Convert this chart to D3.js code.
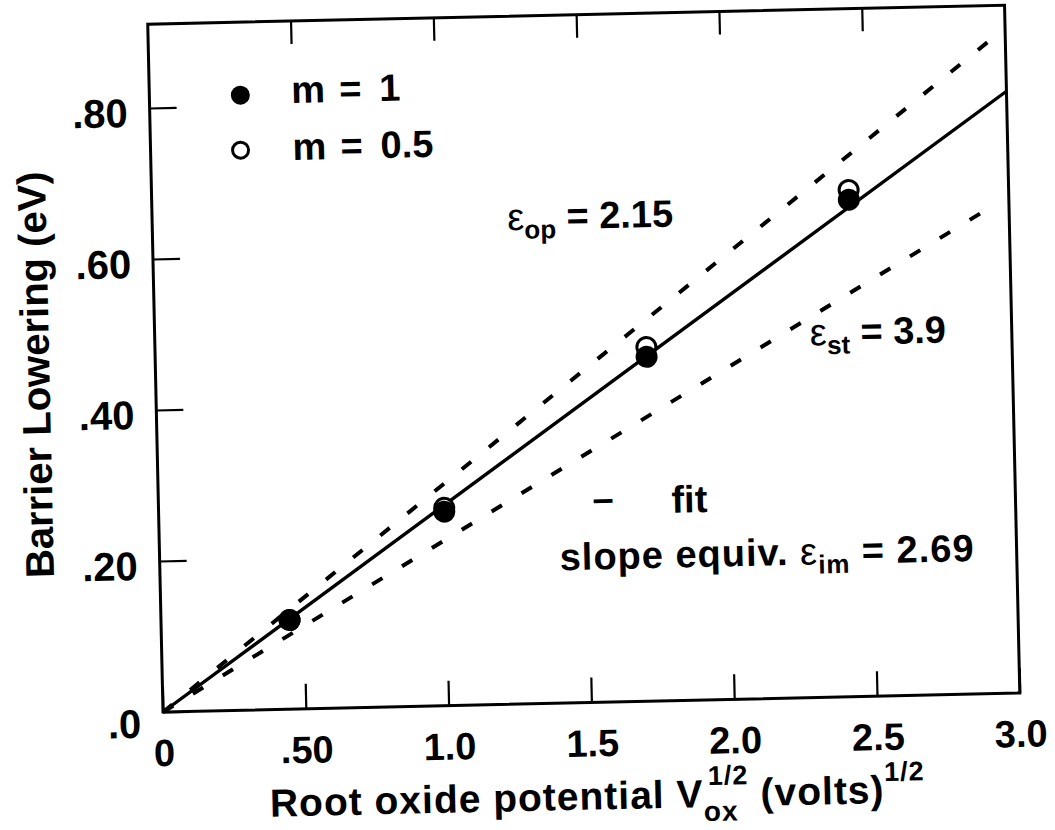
<!DOCTYPE html>
<html>
<head>
<meta charset="utf-8">
<script src="https://cdn.jsdelivr.net/npm/d3@7"></script>
<style>
  body { margin: 0; background: #fff; }
  svg text { font-family: "Liberation Sans", Arial, Helvetica, sans-serif; font-weight: bold; fill: #000; }
</style>
</head>
<body>
<svg id="chart" width="1055" height="830"></svg>
<script>
// Schottky barrier lowering versus the square root of the oxide potential

// axis ticks and their printed labels
const xTicks = [0, 0.5, 1.0, 1.5, 2.0, 2.5, 3.0];
const xTickLabels = ["0", ".50", "1.0", "1.5", "2.0", "2.5", "3.0"];
const yTicks = [0, 0.2, 0.4, 0.6, 0.8];
const yTickLabels = [".0", ".20", ".40", ".60", ".80"];

// measured points: root oxide potential (volts^1/2) and barrier lowering (eV)
const rootVox = [0.45, 1.0, 1.72, 2.44];
const loweringM1 = [0.118, 0.257, 0.456, 0.658];
const loweringM05 = [0.118, 0.262, 0.469, 0.671];

// straight lines as [x, y] end points
const fitLine = [[0, 0], [3.0, 0.797]];     // fit, slope equiv. eps_im = 2.69
const opticalLine = [[0, 0], [2.97, 0.872]]; // eps_op = 2.15
const staticLine = [[0, 0], [2.94, 0.645]];  // eps_st = 3.9

const W = 857, H = 688, L = 163, T = 24;
const svg = d3.select("#chart");
// whole figure sits slightly tilted on the page
const page = svg.append("g").attr("transform", `rotate(-1.27, ${L}, ${T + H})`);
const g = page.append("g").attr("transform", `translate(${L},${T})`);

const x = d3.scaleLinear().domain([0, 3]).range([0, W]);
const y = d3.scaleLinear().domain([0, 0.911]).range([H, 0]);

// frame
g.append("rect").attr("width", W).attr("height", H)
  .attr("fill", "none").attr("stroke", "#000").attr("stroke-width", 3);

function styleAxis(a, size) {
  a.select(".domain").remove();
  a.selectAll(".tick line").attr("stroke", "#000").attr("stroke-width", 2.2);
  a.selectAll(".tick text").attr("font-size", size);
}

// bottom axis
g.append("g").attr("transform", `translate(0,${H})`)
  .call(d3.axisBottom(x).tickValues(xTicks).tickSize(-25).tickPadding(27)
    .tickFormat((d, i) => xTickLabels[i]))
  .call(a => styleAxis(a, 38));

// top axis: ticks only
g.append("g")
  .call(d3.axisTop(x).tickValues(xTicks.slice(1, -1)).tickSize(-23).tickFormat(() => ""))
  .call(a => styleAxis(a, 38));

// left axis
g.append("g")
  .call(d3.axisLeft(y).tickValues(yTicks).tickSize(-27).tickPadding(22)
    .tickFormat((d, i) => yTickLabels[i]))
  .call(a => styleAxis(a, 40))
  .call(a => a.selectAll(".tick text").attr("dy", d => d === 0 ? "0.62em" : "0.45em"));

// lines
const line = d3.line().x(d => x(d[0])).y(d => y(d[1]));
g.append("path").attr("d", line(opticalLine)).attr("fill", "none")
  .attr("stroke", "#000").attr("stroke-width", 4).attr("stroke-dasharray", "12,23");
g.append("path").attr("d", line(staticLine)).attr("fill", "none")
  .attr("stroke", "#000").attr("stroke-width", 4).attr("stroke-dasharray", "12,23");
g.append("path").attr("d", line(fitLine)).attr("fill", "none")
  .attr("stroke", "#000").attr("stroke-width", 3.4);

// points: open (m = 0.5) under filled (m = 1)
g.selectAll("circle.open").data(rootVox).join("circle").attr("class", "open")
  .attr("cx", d => x(d)).attr("cy", (d, i) => y(loweringM05[i])).attr("r", 9.5)
  .attr("fill", "#fff").attr("stroke", "#000").attr("stroke-width", 3);
g.selectAll("circle.filled").data(rootVox).join("circle").attr("class", "filled")
  .attr("cx", d => x(d)).attr("cy", (d, i) => y(loweringM1[i])).attr("r", 11)
  .attr("fill", "#000");

// legend
g.append("circle").attr("cx", 91).attr("cy", 73).attr("r", 9.5).attr("fill", "#000");
g.append("circle").attr("cx", 90).attr("cy", 128).attr("r", 8)
  .attr("fill", "#fff").attr("stroke", "#000").attr("stroke-width", 3);
function legendText(yy, parts) {
  const t = g.append("text").attr("y", yy).attr("font-size", 38);
  parts.forEach(p => t.append("tspan").attr("x", 142 + p[0]).text(p[1]));
}
legendText(82, [[0, "m"], [48, "="], [88, "1"]]);
legendText(139, [[0, "m"], [48, "="], [88, "0.5"]]);

// epsilon annotations
function epsText(px, py, sub, rest) {
  const t = g.append("text").attr("x", px).attr("y", py).attr("font-size", 38);
  t.append("tspan").attr("font-weight", "normal").text("\u03b5");
  t.append("tspan").attr("font-size", 26).attr("dy", 9).text(sub);
  t.append("tspan").attr("dy", -9).text(rest);
  return t;
}
epsText(355, 214, "op", " = 2.15");
epsText(655, 336, "st", " = 3.9");

g.append("text").attr("x", 434).attr("y", 497).attr("font-size", 38).text("\u2013");
g.append("text").attr("x", 513).attr("y", 500).attr("font-size", 38).text("fit");
const slope = g.append("text").attr("x", 400).attr("y", 555).attr("font-size", 38)
  .attr("letter-spacing", 1);
slope.append("tspan").text("slope equiv. ");
slope.append("tspan").attr("font-weight", "normal").text("\u03b5");
slope.append("tspan").attr("font-size", 26).attr("dy", 9).text("im");
slope.append("tspan").attr("dy", -9).text(" = 2.69");

// axis titles
const xt = g.append("text").attr("x", W / 2 + 4).attr("y", H + 107)
  .attr("text-anchor", "middle").attr("font-size", 39).attr("letter-spacing", 1);
xt.append("tspan").text("Root oxide potential V");
xt.append("tspan").attr("font-size", 28).attr("dy", 14).text("ox");
xt.append("tspan").attr("font-size", 27).attr("dy", -36).attr("dx", -30).text("1/2");
xt.append("tspan").attr("dy", 22).text(" (volts)");
xt.append("tspan").attr("font-size", 27).attr("dy", -22).text("1/2");

g.append("text")
  .attr("transform", `translate(-106,${H / 2 + 4}) rotate(-90)`)
  .attr("text-anchor", "middle").attr("font-size", 40)
  .text("Barrier Lowering (eV)");
</script>
</body>
</html>
